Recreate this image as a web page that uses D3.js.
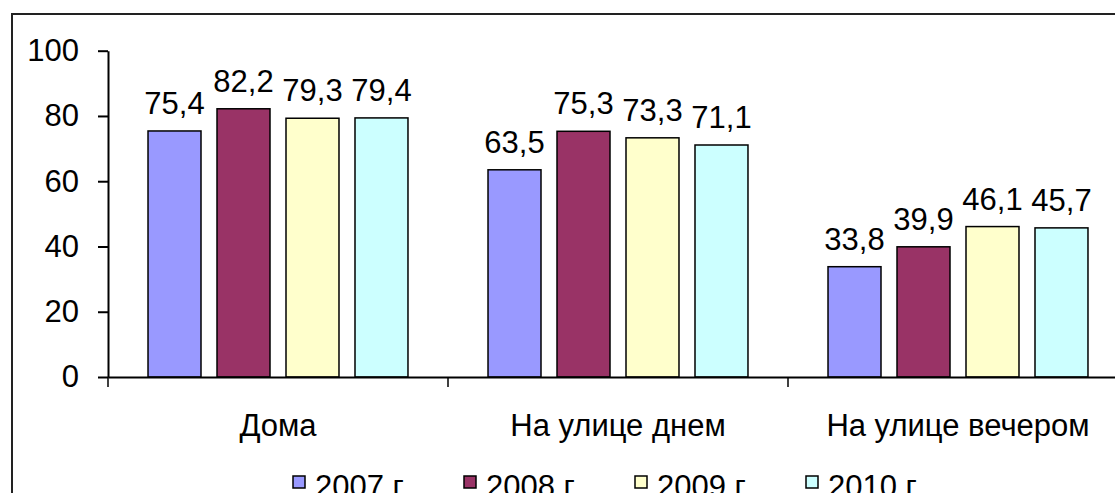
<!DOCTYPE html>
<html>
<head>
<meta charset="utf-8">
<script src="https://cdn.jsdelivr.net/npm/d3@7"></script>
<style>
    body { margin: 0; background: white; }
    text { font-family: 'Liberation Sans', Arial, sans-serif; fill: black; }
</style>
</head>
<body>
<div id="chart-area"></div>
<script>
// Data
const categories = ['Дома', 'На улице днем', 'На улице вечером'];
const seriesNames = ['2007 г', '2008 г', '2009 г', '2010 г'];
const values2007 = [75.4, 63.5, 33.8];
const values2008 = [82.2, 75.3, 39.9];
const values2009 = [79.3, 73.3, 46.1];
const values2010 = [79.4, 71.1, 45.7];
const yTicks = [0, 20, 40, 60, 80, 100];

const seriesValues = [values2007, values2008, values2009, values2010];
const colors = ['#9999ff', '#993366', '#ffffcc', '#ccffff'];

const width = 1115;
const height = 493;
const plot = { left: 108, right: 1128, top: 50.7, bottom: 377 };
const fontSize = 31;

const svg = d3.select('#chart-area')
    .append('svg')
    .attr('width', width)
    .attr('height', height);

// Outer frame (runs past the right and bottom edges)
svg.append('rect')
    .attr('x', 12)
    .attr('y', 14)
    .attr('width', 1200)
    .attr('height', 600)
    .attr('fill', 'white')
    .attr('stroke', '#222')
    .attr('stroke-width', 2);

// Scales
const x0 = d3.scaleBand()
    .domain(categories)
    .range([plot.left, plot.right]);

const x1 = d3.scaleBand()
    .domain(seriesNames)
    .range([0, x0.bandwidth()])
    .paddingInner(0.232)
    .paddingOuter(0.58);

const y = d3.scaleLinear()
    .domain([0, 100])
    .range([plot.bottom, plot.top]);

// Bars
const table = categories.map((category, i) => ({
    category,
    bars: seriesNames.map((name, j) => ({ name, value: seriesValues[j][i], color: colors[j] }))
}));

const groups = svg.selectAll('.group')
    .data(table)
    .enter()
    .append('g')
    .attr('class', 'group')
    .attr('transform', (d) => `translate(${x0(d.category)}, 0)`);

groups.selectAll('rect')
    .data((d) => d.bars)
    .enter()
    .append('rect')
    .attr('x', (d) => x1(d.name))
    .attr('y', (d) => y(d.value))
    .attr('width', x1.bandwidth())
    .attr('height', (d) => y(0) - y(d.value))
    .attr('fill', (d) => d.color)
    .attr('stroke', 'black')
    .attr('stroke-width', 1.5);

groups.selectAll('.value-label')
    .data((d) => d.bars)
    .enter()
    .append('text')
    .attr('class', 'value-label')
    .attr('font-size', fontSize)
    .attr('text-anchor', 'middle')
    .attr('x', (d) => x1(d.name) + x1.bandwidth() / 2)
    .attr('y', (d) => y(d.value) - 17)
    .text((d) => String(d.value).replace('.', ','));

// Axes
const yAxisCall = d3.axisLeft(y)
    .tickValues(yTicks)
    .tickSize(10)
    .tickPadding(19)
    .tickSizeOuter(0);

const yAxisGroup = svg.append('g')
    .attr('transform', `translate(${plot.left}, 0)`)
    .call(yAxisCall);

yAxisGroup.select('.domain').attr('stroke-width', 2);
yAxisGroup.selectAll('.tick line').attr('stroke-width', 2);
yAxisGroup.selectAll('.tick text')
    .attr('font-size', fontSize)
    .attr('font-family', null);

const xAxisCall = d3.axisBottom(x0)
    .tickValues([])
    .tickSizeOuter(0);

const xAxisGroup = svg.append('g')
    .attr('transform', `translate(0, ${plot.bottom})`)
    .call(xAxisCall);

xAxisGroup.select('.domain').attr('stroke-width', 2);

// Category separator ticks
xAxisGroup.selectAll('.sep')
    .data(categories)
    .enter()
    .append('line')
    .attr('class', 'sep')
    .attr('x1', (d) => x0(d))
    .attr('x2', (d) => x0(d))
    .attr('y1', 0)
    .attr('y2', 10)
    .attr('stroke', 'black')
    .attr('stroke-width', 1.5);

xAxisGroup.selectAll('.cat-label')
    .data(categories)
    .enter()
    .append('text')
    .attr('class', 'cat-label')
    .attr('font-size', fontSize)
    .attr('text-anchor', 'middle')
    .attr('x', (d) => x0(d) + x0.bandwidth() / 2)
    .attr('y', 59)
    .text((d) => d);

// Legend
const legendX = [293, 464, 635, 806];

const legend = svg.append('g')
    .attr('transform', 'translate(0, 476)');

seriesNames.forEach((name, i) => {
    const legendRow = legend.append('g')
        .attr('transform', `translate(${legendX[i]}, 0)`);

    legendRow.append('rect')
        .attr('width', 12)
        .attr('height', 12)
        .attr('fill', colors[i])
        .attr('stroke', 'black')
        .attr('stroke-width', 1.5);

    legendRow.append('text')
        .attr('x', 22)
        .attr('y', 21)
        .attr('font-size', fontSize)
        .text(name);
});
</script>
</body>
</html>
